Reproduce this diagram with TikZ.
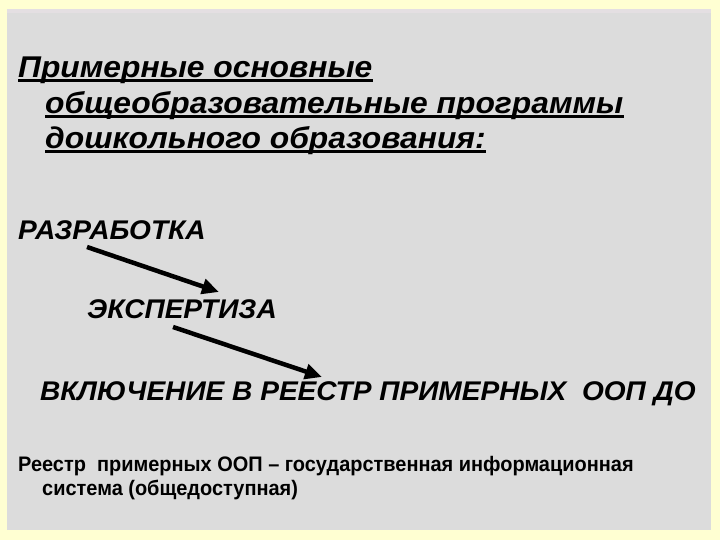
\documentclass[tikz,border=0pt]{standalone}
\usepackage{fontspec}
\setmainfont{Liberation Sans}
\newfontfamily\widefont[FakeStretch=1.06]{Liberation Sans}
\newfontfamily\stagefont[FakeStretch=1.04]{Liberation Sans}
\newfontfamily\notefont[FakeStretch=0.95]{Liberation Sans}
\usetikzlibrary{arrows.meta,calc}
\definecolor{slidebg}{HTML}{FFFFD2}
\definecolor{panelgray}{HTML}{DCDCDC}
\definecolor{paneledge}{HTML}{E4DFE2}

\begin{document}
\begin{tikzpicture}[x=1pt,y=-1pt,
every node/.style={inner sep=0pt,anchor=base west},
titleline/.style={font=\fontsize{30}{35}\widefont\bfseries\itshape},
stage/.style={font=\fontsize{27}{32}\stagefont\bfseries\itshape},
note/.style={font=\fontsize{21}{25}\notefont\bfseries},
flow/.style={line width=4.5pt,-{Triangle[length=17pt,width=15pt]}}]

\useasboundingbox (0,0) rectangle (720,540);
\fill[slidebg] (0,0) rectangle (720,540);
\fill[panelgray] (7,9) rectangle (711,530);
\fill[paneledge] (7,9) rectangle (711,13);

\node[titleline] (T1) at (18,78) {Примерные основные};
\node[titleline] (T2) at (45,114) {общеобразовательные программы};
\node[titleline] (T3) at (45,149) {дошкольного образования:};

\foreach \t in {T1,T2,T3}
{
    \draw[line width=2.2pt] ($(\t.base west)+(0,2.5)$) -- ($(\t.base east)+(0,2.5)$);
};

\node[stage] (Razr) at (18,240) {РАЗРАБОТКА};
\node[stage] (Expert) at (87,318) {ЭКСПЕРТИЗА};
\node[stage] (Reestr) at (40,400) {ВКЛЮЧЕНИЕ В РЕЕСТР ПРИМЕРНЫХ\ \ ООП ДО};

\coordinate (RazrOut) at ($(Razr.base west)+(69,7)$);
\coordinate (ExpertIn) at ($(Expert.base west)+(132,-26)$);
\coordinate (ExpertOut) at ($(Expert.base west)+(86,9)$);
\coordinate (ReestrIn) at ($(Reestr.base west)+(282,-23)$);

\draw[flow] (RazrOut) -- (ExpertIn);
\draw[flow] (ExpertOut) -- (ReestrIn);

\node[note] (Info1) at (18,471) {Реестр\ \ примерных ООП – государственная информационная};
\node[note] (Info2) at (42,495) {система (общедоступная)};

\end{tikzpicture}
\end{document}
